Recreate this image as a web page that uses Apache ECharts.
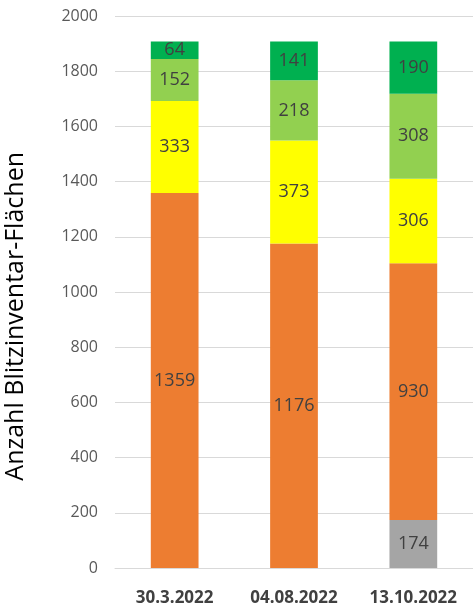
<!DOCTYPE html>
<html>
<head>
<meta charset="utf-8">
<script src="https://cdn.jsdelivr.net/npm/echarts@6/dist/echarts.min.js"></script>
<style>
  html, body { margin: 0; padding: 0; background: #fff; }
  #chart { width: 473px; height: 610px; }
</style>
</head>
<body>
<div id="chart"></div>
<script>
const categories = ['30.3.2022', '04.08.2022', '13.10.2022']
const grau = [null, null, 174]
const orange = [1359, 1176, 930]
const gelb = [333, 373, 306]
const hellgruen = [152, 218, 308]
const gruen = [64, 141, 190]
const yTicks = [0, 200, 400, 600, 800, 1000, 1200, 1400, 1600, 1800, 2000]

const chart = echarts.init(document.getElementById('chart'))

function seg(name, data, color) {
  return {
    name: name,
    type: 'bar',
    stack: 'total',
    barWidth: '40%',
    data: data,
    itemStyle: { color: color },
    label: {
      show: true,
      position: 'inside',
      color: '#404040',
      fontFamily: 'Open Sans',
      fontSize: 18,
      formatter: p => (p.value == null ? '' : p.value)
    }
  }
}

chart.setOption({
  animation: false,
  grid: { left: 115, width: 363, top: 16, bottom: 42 },
  xAxis: {
    type: 'category',
    data: categories,
    axisTick: { show: false },
    axisLine: { lineStyle: { color: '#d9d9d9' } },
    axisLabel: {
      color: '#404040',
      fontFamily: 'Open Sans',
      fontWeight: 'bold',
      fontSize: 17,
      margin: 22
    }
  },
  yAxis: {
    type: 'value',
    min: 0,
    max: yTicks[yTicks.length - 1],
    interval: 200,
    axisLabel: {
      color: '#595959',
      fontFamily: 'Open Sans',
      fontSize: 16,
      margin: 17,
      formatter: v => String(v)
    },
    splitLine: { lineStyle: { color: '#d9d9d9' } }
  },
  graphic: [{
    type: 'text',
    left: 3,
    top: 152,
    rotation: Math.PI / 2,
    style: {
      text: 'Anzahl Blitzinventar-Flächen',
      fill: '#000',
      font: '25px "Open Sans"'
    }
  }],
  series: [
    seg('grau', grau, '#a5a5a5'),
    seg('orange', orange, '#ed7d31'),
    seg('gelb', gelb, '#ffff00'),
    seg('hellgruen', hellgruen, '#92d050'),
    seg('gruen', gruen, '#00b050')
  ]
})
</script>
</body>
</html>
